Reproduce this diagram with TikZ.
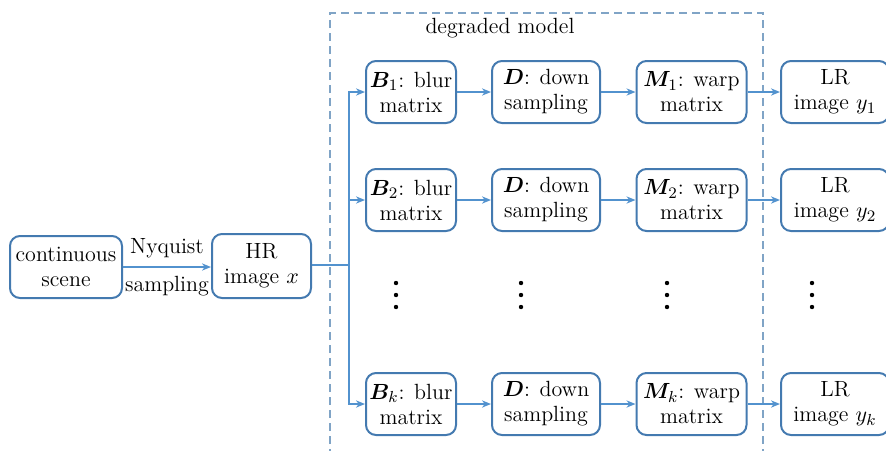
\documentclass[tikz,border=0pt]{standalone}
\usepackage{amsmath,bm}
\usetikzlibrary{arrows.meta}
\definecolor{boxblue}{RGB}{68,122,176}
\definecolor{lineblue}{RGB}{82,146,206}
\definecolor{dashblue}{RGB}{128,164,198}
\begin{document}
\begin{tikzpicture}[x=0.5pt, y=-0.5pt,
        font=\fontsize{11}{12.5}\selectfont,
        >={Stealth[length=4.5pt,width=3.6pt,inset=1.4pt]},
        block/.style={draw=boxblue, line width=1pt, rounded corners=5pt, align=center, inner sep=0pt, minimum height=31pt},
        link/.style={draw=lineblue, line width=0.8pt}]
        \useasboundingbox (0,0) rectangle (886,450);

        % Input side
        \node[block, minimum width=56pt] (scene) at (66,267) {continuous\\scene};
        \node[block, minimum width=49.5pt, minimum height=32pt] (hr) at (261.5,266) {HR\\image $x$};
        \draw[link, ->] (scene.east) -- node[above=1pt] {Nyquist} node[below=1pt] {sampling} (hr.west |- scene.east);

        % Degraded model
        \draw[dashblue, line width=0.8pt, dash pattern=on 4pt off 2.5pt] (330,470) |- (763,13) -- (763,470);
        \node (dm) at (500,28) {degraded model};

        \foreach \y/\s in {92/1, 200/2, 404/k} {
            \node[block, minimum width=45pt] (b\s) at (411,\y) {$\boldsymbol{B}_{\s}$: blur\\matrix};
            \node[block, minimum width=54pt] (d\s) at (546,\y) {$\boldsymbol{D}$: down\\sampling};
            \node[block, minimum width=55pt] (m\s) at (691.5,\y) {$\boldsymbol{M}_{\s}$: warp\\matrix};
            \node[block, minimum width=54pt] (lr\s) at (835,\y) {LR\\image $y_{\s}$};
            \draw[link, ->] (b\s) -- (d\s);
            \draw[link, ->] (d\s) -- (m\s);
            \draw[link, ->] (m\s) -- (lr\s);
        }

        % Branching
        \coordinate (split) at (349,265);
        \draw[link] (hr.east |- split) -- (split);
        \foreach \s in {1,2,k} {
            \draw[link, ->] (split) |- (b\s.west);
        }

        % Dots
        \foreach \x in {396,521,667,812} {
            \foreach \d in {283,295,307} {
                \fill (\x,\d) circle (1.1pt);
            }
        }
    \end{tikzpicture}
\end{document}
